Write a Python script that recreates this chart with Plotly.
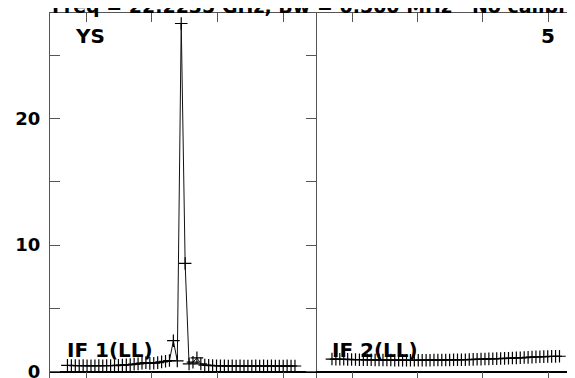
import plotly.graph_objects as go

# channel numbers shared by both IF panels
channels = list(range(1, 60))

# IF 1 (LL) amplitude per channel
if1_amp = [0.50, 0.49, 0.48, 0.47, 0.48, 0.47, 0.46, 0.47, 0.48, 0.47,
           0.48, 0.49, 0.48, 0.50, 0.52, 0.54, 0.56, 0.60, 0.62, 0.68,
           0.72, 0.66, 0.67, 0.72, 0.78, 0.82, 0.88, 2.45, 0.85, 27.5,
           8.55, 0.62, 0.75, 1.10, 0.62, 0.52, 0.50, 0.48, 0.47, 0.46,
           0.46, 0.45, 0.46, 0.45, 0.46, 0.45, 0.44, 0.45, 0.46, 0.45,
           0.46, 0.45, 0.46, 0.45, 0.44, 0.45, 0.46, 0.45, 0.45]

# IF 2 (LL) amplitude per channel
if2_amp = [1.00, 0.99, 0.98, 0.98, 0.97, 0.96, 0.96, 0.95, 0.95, 0.94,
           0.94, 0.93, 0.93, 0.92, 0.92, 0.92, 0.91, 0.91, 0.91, 0.90,
           0.90, 0.90, 0.90, 0.91, 0.91, 0.91, 0.92, 0.92, 0.92, 0.93,
           0.93, 0.94, 0.94, 0.95, 0.95, 0.96, 0.97, 0.98, 0.99, 1.00,
           1.01, 1.02, 1.03, 1.04, 1.05, 1.06, 1.08, 1.09, 1.10, 1.12,
           1.13, 1.15, 1.17, 1.18, 1.19, 1.20, 1.21, 1.21, 1.22]

ytick_vals = [0, 10, 20]
ytick_text = ["0", "10", "20"]
xtick_vals_if1 = [5.84, 22.38, 39.17, 55.96]
xtick_vals_if2 = [6.34, 22.88, 39.42, 56.22]

title_text = "Freq = 22.2235 GHz, Bw = 0.500 MHz   No calibration applied"
source_label = "YS"
panel_label = "5"
if_labels = ["IF 1(LL)", "IF 2(LL)"]

FONT = "DejaVu Sans, Verdana, sans-serif"
LINE = "#555555"

fig = go.Figure()

trace_style = dict(mode="lines+markers",
                   line=dict(color="#111111", width=1),
                   marker=dict(symbol="cross-thin", size=9,
                               line=dict(color="#000000", width=1.2)),
                   showlegend=False, cliponaxis=False)

fig.add_trace(go.Scatter(x=channels, y=if1_amp, xaxis="x", yaxis="y", **trace_style))
fig.add_trace(go.Scatter(x=channels, y=if2_amp, xaxis="x2", yaxis="y2", **trace_style))

split = 0.5
yrange = [-0.734, 28.33]

xcommon = dict(showticklabels=False, showgrid=False, zeroline=False,
               ticks="inside", ticklen=9, tickcolor=LINE, automargin=False,
               showline=True, mirror="ticks", linecolor=LINE, linewidth=1)

fig.update_layout(
    width=575, height=378,
    margin=dict(l=41.5, r=0.5, t=4.8, b=5, autoexpand=False),
    paper_bgcolor="white", plot_bgcolor="white",
    xaxis=dict(domain=[0, split], range=[-3.45, 64.36], anchor="y",
               tickvals=xtick_vals_if1, **xcommon),
    xaxis2=dict(domain=[split, 1], range=[-3.07, 64.74], anchor="y2",
                tickvals=xtick_vals_if2, **xcommon),
    yaxis=dict(domain=[0, 1], range=yrange, anchor="x",
               tickvals=ytick_vals, ticktext=ytick_text,
               ticks="inside", ticklen=10, tickcolor=LINE, ticklabelstandoff=5,
               minor=dict(dtick=5, tick0=0, ticks="inside", ticklen=10, tickcolor=LINE),
               showline=True, mirror="ticks", linecolor=LINE, linewidth=1,
               showgrid=False, zeroline=True, zerolinecolor="black", zerolinewidth=1.5,
               automargin=False,
               tickfont=dict(family=FONT, size=18, color="black", weight="bold")),
    yaxis2=dict(domain=[0, 1], range=yrange, anchor="x2", side="right",
                tickvals=[5, 10, 15, 20, 25], showticklabels=False,
                ticks="inside", ticklen=10, tickcolor=LINE,
                showline=False, showgrid=False, automargin=False,
                zeroline=True, zerolinecolor="black", zerolinewidth=1.5),
)

lab = dict(family=FONT, size=20, color="black", weight="bold")
fig.add_annotation(text=title_text, xref="paper", yref="paper", x=0, y=1.018,
                   xanchor="left", yanchor="middle", showarrow=False,
                   font=dict(family=FONT, size=19, color="black", weight="bold"))
fig.add_annotation(text=source_label, xref="x domain", yref="y domain", x=0.088, y=0.938,
                   xanchor="left", yanchor="middle", showarrow=False, font=lab)
fig.add_annotation(text=panel_label, xref="x2 domain", yref="y2 domain", x=0.872, y=0.938,
                   xanchor="center", yanchor="middle", showarrow=False, font=lab)
fig.add_annotation(text=if_labels[0], xref="x domain", yref="y domain", x=0.058, y=0.083,
                   xanchor="left", yanchor="middle", showarrow=False, font=lab)
fig.add_annotation(text=if_labels[1], xref="x2 domain", yref="y2 domain", x=0.0525, y=0.083,
                   xanchor="left", yanchor="middle", showarrow=False, font=lab)

fig.write_html("out.html")
